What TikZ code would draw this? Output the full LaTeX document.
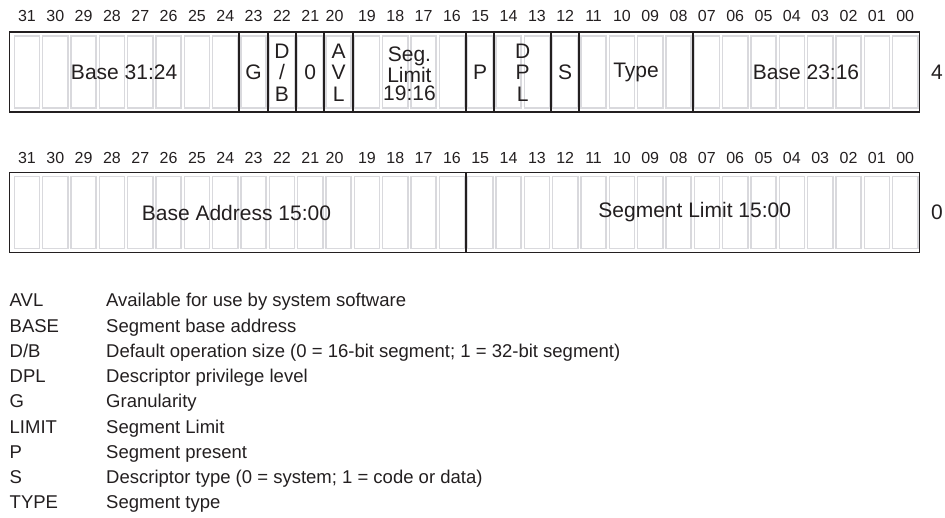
\documentclass[tikz,border=0pt]{standalone}
\usepackage{fontspec}
\setmainfont{Liberation Sans}
\definecolor{ink}{HTML}{231F20}
\definecolor{cellgrey}{HTML}{D9D9DD}
\begin{document}
\begin{tikzpicture}[x=1pt,y=-1pt,
  frame/.style={draw=ink,line width=1.9pt},
  bitcell/.style={draw=cellgrey,line width=1.5pt},
  bitnum/.style={font=\fontsize{16}{17}\selectfont,text=ink,inner sep=0pt},
  field/.style={font=\fontsize{21}{21.5}\selectfont,text=ink,align=center,inner sep=0pt},
  tightfield/.style={font=\fontsize{21}{18}\selectfont,text=ink,align=center,inner sep=0pt},
  legkey/.style={font=\fontsize{18.5}{20}\selectfont,text=ink,anchor=base west,inner sep=0pt},
]
\useasboundingbox (0,0) rectangle (945,518);

% bit grid: origin and pitch
\def\gx{12.8}
\def\gp{28.33}

% ---------- descriptor word at offset 4 ----------
\foreach \i in {0,...,31}
  \draw[bitcell] ({\gx+\i*\gp+1.6},36) rectangle ({\gx+(\i+1)*\gp-1.6},108);
\draw[frame] (9.5,32) rectangle (919.5,112);
\foreach \i in {8,9,10,11,12,16,17,19,20,24}
  \draw[frame] ({\gx+\i*\gp},32) -- ({\gx+\i*\gp},112);

\foreach \b/\dx [count=\n from 0] in {31/0,30/0,29/0,28/0,27/0,26/0,25/0,24/0,23/0,22/0,21/0,20/-4,19/0,18/0,17/0,16/0,15/0,14/0,13/0,12/0,11/0,10/0,09/0,08/0,07/0,06/0,05/0,04/0,03/0,02/0,01/0,00/0}
  \node[bitnum] (hi\b) at ({\gx+(\n+0.5)*\gp+\dx},16) {\b};

\node[field] (base3124) at ({\gx+4*\gp-2},72) {Base 31:24};
\node[field] (g)   at ({\gx+8.5*\gp},72) {G};
\node[field] (db)  at ({\gx+9.5*\gp},72.5) {D\\/\\B};
\node[field] (zero) at ({\gx+10.5*\gp},72) {0};
\node[field] (avl) at ({\gx+11.5*\gp},72.5) {A\\V\\L};
\node[tightfield] (seglim) at ({\gx+14*\gp},73.5) {Seg.\\Limit\\19:16};
\node[field] (p)   at ({\gx+16.5*\gp},72) {P};
\node[field] (dpl) at ({\gx+18*\gp},72.5) {D\\P\\L};
\node[field] (s)   at ({\gx+19.5*\gp},72) {S};
\node[field] (type) at ({\gx+22*\gp},72) {Type};
\node[field] (base2316) at ({\gx+28*\gp},72) {Base 23:16};
\node[field] (off4) at (937,72) {4};

% ---------- descriptor word at offset 0 ----------
\foreach \i in {0,...,31}
  \draw[bitcell] ({\gx+\i*\gp+1.6},176.5) rectangle ({\gx+(\i+1)*\gp-1.6},248.5);
\draw[frame] (9.5,172.5) rectangle (919.5,252.5);
\draw[frame] ({\gx+16*\gp},172.5) -- ({\gx+16*\gp},252.5);

\foreach \b/\dx [count=\n from 0] in {31/0,30/0,29/0,28/0,27/0,26/0,25/0,24/0,23/0,22/0,21/0,20/-4,19/0,18/0,17/0,16/0,15/0,14/0,13/0,12/0,11/0,10/0,09/0,08/0,07/0,06/0,05/0,04/0,03/0,02/0,01/0,00/0}
  \node[bitnum] (lo\b) at ({\gx+(\n+0.5)*\gp+\dx},158) {\b};

\node[field] (baseaddr) at ({\gx+8*\gp-3},212.5) {Base Address 15:00};
\node[field] (seglimit) at ({\gx+24*\gp+2},212.5) {Segment Limit 15:00};
\node[field] (off0) at (937,212.5) {0};

% ---------- legend (keys and meanings share a baseline) ----------
\foreach \k/\d [count=\n from 0] in {
  AVL/Available for use by system software,
  BASE/Segment base address,
  D\slash B/{Default operation size (0 = 16-bit segment; 1 = 32-bit segment)},
  DPL/Descriptor privilege level,
  G/Granularity,
  LIMIT/Segment Limit,
  P/Segment present,
  S/{Descriptor type (0 = system; 1 = code or data)},
  TYPE/Segment type}
{
  \node[legkey] (key\n) at (9.5,{306.8+\n*25.25}) {\k};
  \node[legkey] (desc\n) at (106,{306.8+\n*25.25}) {\d};
}
\end{tikzpicture}
\end{document}
